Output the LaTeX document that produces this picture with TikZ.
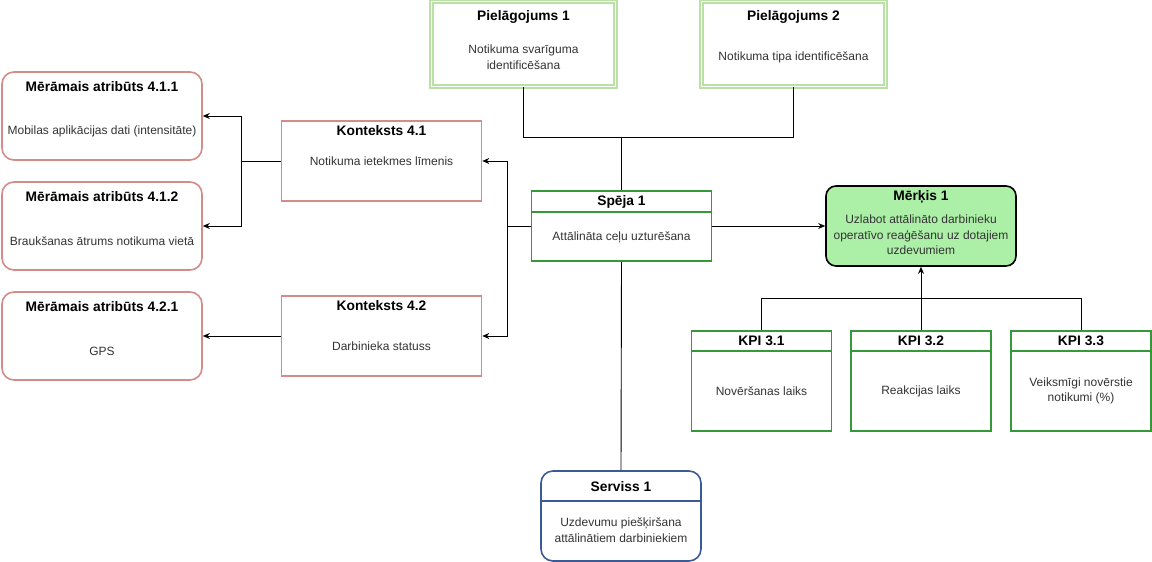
\documentclass[tikz,border=0pt]{standalone}
\usepackage{fontspec}
\setmainfont{Liberation Sans}
\usetikzlibrary{arrows.meta}
\definecolor{redb}{HTML}{D38C88}
\definecolor{lgreen}{HTML}{B9E0A5}
\definecolor{dgreen}{HTML}{35993A}
\definecolor{merfill}{HTML}{ACF0A8}
\definecolor{blueb}{HTML}{3C5A96}
\definecolor{bodytxt}{HTML}{333333}
\tikzset{
  redbox/.style={draw=redb, line width=1.6pt, fill=white},
  redround/.style={redbox, rounded corners=12pt},
  pbox/.style={draw=lgreen, double=white, line width=1.3pt, double distance=1.6pt, fill=white},
  gbox/.style={draw=dgreen, line width=1.8pt, fill=white},
  merbox/.style={draw=black, line width=1.6pt, fill=merfill, rounded corners=10pt},
  srvbox/.style={draw=blueb, line width=1.6pt, fill=white, rounded corners=12pt},
  ttl/.style={font=\fontsize{13.8}{16}\selectfont\bfseries, text=black, inner sep=0pt},
  bdy/.style={font=\fontsize{12}{15.5}\selectfont, text=bodytxt, align=center, inner sep=0pt},
  conn/.style={draw=black, line width=0.9pt},
  arr/.style={conn, -{Stealth[length=7pt,width=6pt]}},
}
\begin{document}
\begin{tikzpicture}[x=1pt,y=-1pt]
\useasboundingbox (0,0) rectangle (1152,562);
% Pielagojums
\node[pbox, minimum width=184pt, minimum height=85pt] (p1) at (523.5,44) {};
\node[ttl] (p1t) at (523.5,17) {Pielāgojums 1};
\node[bdy] (p1b) at (523.5,57) {Notikuma svarīguma\\identificēšana};
\node[pbox, minimum width=184pt, minimum height=85pt] (p2) at (793.5,44) {};
\node[ttl] (p2t) at (793.5,17) {Pielāgojums 2};
\node[bdy] (p2b) at (793.5,57) {Notikuma tipa identificēšana};
% Meramie atributi
\node[redround, minimum width=200pt, minimum height=88pt] (m411) at (102,116) {};
\node[ttl] (m411t) at (102,87) {Mērāmais atribūts 4.1.1};
\node[bdy] (m411b) at (102,131) {Mobilas aplikācijas dati (intensitāte)};
\node[redround, minimum width=200pt, minimum height=88pt] (m412) at (102,226) {};
\node[ttl] (m412t) at (102,197) {Mērāmais atribūts 4.1.2};
\node[bdy] (m412b) at (102,241) {Braukšanas ātrums notikuma vietā};
\node[redround, minimum width=200pt, minimum height=88pt] (m421) at (102,336) {};
\node[ttl] (m421t) at (102,307) {Mērāmais atribūts 4.2.1};
\node[bdy] (m421b) at (102,351) {GPS};
% Konteksti
\node[redbox, minimum width=200pt, minimum height=80pt] (k41) at (381.5,161) {};
\node[ttl] (k41t) at (381.5,131) {Konteksts 4.1};
\node[bdy] (k41b) at (381.5,161) {Notikuma ietekmes līmenis};
\node[redbox, minimum width=200pt, minimum height=80pt] (k42) at (381.5,336) {};
\node[ttl] (k42t) at (381.5,306) {Konteksts 4.2};
\node[bdy] (k42b) at (381.5,346) {Darbinieka statuss};
% Speja
\node[gbox, minimum width=180pt, minimum height=70pt] (spe) at (621.5,226) {};
\draw[dgreen, line width=1.8pt] (531.5,212) -- (711.5,212);
\node[ttl] (spet) at (621.5,202) {Spēja 1};
\node[bdy] (speb) at (621.5,237) {Attālināta ceļu uzturēšana};
% Merkis
\node[merbox, minimum width=190pt, minimum height=80pt] (mer) at (921,226) {};
\node[ttl] (mert) at (921,197) {Mērķis 1};
\node[bdy] (merb) at (921,235) {Uzlabot attālināto darbinieku\\operatīvo reaģēšanu uz dotajiem\\uzdevumiem};
% KPI
\foreach \n/\x in {1/761.5,2/921,3/1081}{
  \node[gbox, minimum width=140pt, minimum height=100pt] (kpi\n) at (\x,381) {};
  \draw[dgreen, line width=1.8pt] (\x-70,351) -- (\x+70,351);
  \node[ttl] (kpi\n t) at (\x,341) {KPI 3.\n};
}
\node[bdy] (kpi1b) at (761.5,391) {Novēršanas laiks};
\node[bdy] (kpi2b) at (921,391) {Reakcijas laiks};
\node[bdy] (kpi3b) at (1081,391) {Veiksmīgi novērstie\\notikumi (\%)};
% Serviss
\node[srvbox, minimum width=160pt, minimum height=90pt] (srv) at (621,516) {};
\draw[blueb, line width=1.6pt] (541,501) -- (701,501);
\node[ttl] (srvt) at (621,487) {Serviss 1};
\node[bdy] (srvb) at (621,530) {Uzdevumu piešķiršana\\attālinātiem darbiniekiem};
% connectors
\coordinate (jn) at (621.5,137);
\draw[conn] (p1.south) |- (jn);
\draw[conn] (p2.south) |- (jn);
\draw[conn] (jn) -- (spe.north);
\draw[conn] (spe.south) -- (srv.north);
\draw[arr] (spe.west) -- (507,226) |- (k41.east);
\draw[arr] (spe.west) -- (507,226) |- (k42.east);
\draw[arr] (k41.west) -- (241,161) |- (m411.east);
\draw[arr] (k41.west) -- (241,161) |- (m412.east);
\draw[arr] (k42.west) -- (m421.east);
\draw[arr] (spe.east) -- (mer.west);
\coordinate (kj) at (921,298);
\draw[conn] (kpi1.north) |- (kj);
\draw[conn] (kpi3.north) |- (kj);
\draw[arr] (kpi2.north) -- (mer.south);
\end{tikzpicture}
\end{document}
